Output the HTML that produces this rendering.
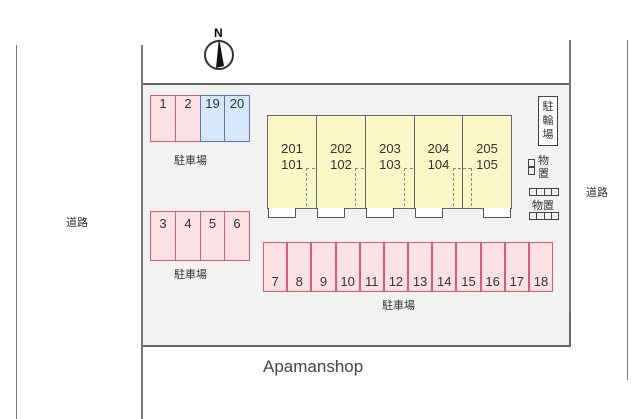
<!DOCTYPE html>
<html><head><meta charset="utf-8"><style>
body{margin:0;width:640px;height:419px;background:#fff;position:relative;overflow:hidden;font-family:"Liberation Sans","Noto Sans CJK JP",sans-serif;}
.a{position:absolute;box-sizing:border-box}
.p{position:absolute;box-sizing:border-box;border:1px solid #d06070;background:#fbe0e6;font-size:13px;color:#333;text-align:center}
.b{position:absolute;box-sizing:border-box;border:1px solid #6070c0;background:#d6e8fb;font-size:13px;color:#333;text-align:center}
.u{position:absolute;box-sizing:border-box;border:1px solid #666;background:#fbf8c8;font-size:13px;color:#333;text-align:center;line-height:16px;padding-top:25px}
.bal{position:absolute;box-sizing:border-box;border:1px solid #555;border-top:none;background:#fff;height:10px;width:28px;top:208px}
.t{position:absolute;font-size:11px;color:#333}
.d{position:absolute;border-left:1px dashed #888;width:0}
.h{position:absolute;border-top:1px dashed #888;height:0}
</style></head><body>
<div class="a" style="left:142px;top:83px;width:429px;height:264px;background:#f2f2f2;border-top:2px solid #666;border-bottom:2px solid #666;border-right:2px solid #666"></div>
<div class="a" style="left:141px;top:45px;width:2px;height:374px;background:#777"></div>
<div class="a" style="left:16px;top:45px;width:1px;height:374px;background:#777"></div>
<div class="a" style="left:569px;top:40px;width:2px;height:272px;background:#777"></div>
<div class="a" style="left:627px;top:40px;width:1px;height:340px;background:#777"></div>
<div class="t" style="left:66px;top:214px">道路</div>
<div class="t" style="left:586px;top:184px">道路</div>
<div class="a" style="left:263px;top:357px;font-size:17px;color:#444">Apamanshop</div>
<div class="a" style="left:204px;top:40px;width:30px;height:30px;border:2px solid #333;border-radius:50%"></div>
<svg class="a" style="left:204px;top:24px" width="30" height="48"><text x="10" y="13" font-size="12" font-family="Liberation Sans" font-weight="bold">N</text><polygon points="15,14 12,44 20,42" fill="#111"/></svg>
<div class="p" style="left:150px;top:95px;width:26px;height:47px">1</div>
<div class="p" style="left:175px;top:95px;width:26px;height:47px">2</div>
<div class="b" style="left:200px;top:95px;width:25px;height:47px">19</div>
<div class="b" style="left:224px;top:95px;width:26px;height:47px">20</div>
<div class="t" style="left:174px;top:152px">駐車場</div>
<div class="p" style="left:150px;top:211px;width:26px;height:50px;padding-top:4px">3</div>
<div class="p" style="left:175px;top:211px;width:26px;height:50px;padding-top:4px">4</div>
<div class="p" style="left:200px;top:211px;width:25px;height:50px;padding-top:4px">5</div>
<div class="p" style="left:224px;top:211px;width:26px;height:50px;padding-top:4px">6</div>
<div class="t" style="left:174px;top:266px">駐車場</div>
<div class="a" style="left:263px;top:242px;width:290px;height:50px;display:flex">
<div class="p" style="position:relative;flex:1;padding-top:31px">7</div><div class="p" style="position:relative;flex:1;padding-top:31px">8</div><div class="p" style="position:relative;flex:1;padding-top:31px">9</div><div class="p" style="position:relative;flex:1;padding-top:31px">10</div><div class="p" style="position:relative;flex:1;padding-top:31px">11</div><div class="p" style="position:relative;flex:1;padding-top:31px">12</div><div class="p" style="position:relative;flex:1;padding-top:31px">13</div><div class="p" style="position:relative;flex:1;padding-top:31px">14</div><div class="p" style="position:relative;flex:1;padding-top:31px">15</div><div class="p" style="position:relative;flex:1;padding-top:31px">16</div><div class="p" style="position:relative;flex:1;padding-top:31px">17</div><div class="p" style="position:relative;flex:1;padding-top:31px">18</div></div>
<div class="t" style="left:382px;top:297px">駐車場</div>
<div class="u" style="left:267px;top:115px;width:50px;height:94px">201<br>101</div>
<div class="u" style="left:316px;top:115px;width:50px;height:94px">202<br>102</div>
<div class="u" style="left:365px;top:115px;width:50px;height:94px">203<br>103</div>
<div class="u" style="left:414px;top:115px;width:49px;height:94px">204<br>104</div>
<div class="u" style="left:462px;top:115px;width:50px;height:94px">205<br>105</div>
<div class="h" style="left:306px;top:168px;width:9px"></div><div class="d" style="left:306px;top:168px;height:38px"></div>
<div class="h" style="left:355px;top:168px;width:9px"></div><div class="d" style="left:355px;top:168px;height:38px"></div>
<div class="h" style="left:404px;top:168px;width:9px"></div><div class="d" style="left:404px;top:168px;height:38px"></div>
<div class="h" style="left:453px;top:168px;width:18px"></div><div class="d" style="left:453px;top:168px;height:38px"></div><div class="d" style="left:471px;top:168px;height:38px"></div>
<div class="bal" style="left:268px"></div><div class="bal" style="left:317px"></div><div class="bal" style="left:366px"></div><div class="bal" style="left:415px"></div><div class="bal" style="left:483px"></div>
<div class="a" style="left:538px;top:96px;width:20px;height:50px;border:1px solid #444;background:#fff;font-size:11px;line-height:14px;text-align:center;padding-top:3px;color:#333">駐<br>輪<br>場</div>
<div class="a" style="left:528px;top:159px;width:7px;height:8px;border:1px solid #444"></div>
<div class="a" style="left:528px;top:167px;width:7px;height:8px;border:1px solid #444"></div>
<div class="t" style="left:538px;top:155px;line-height:13px">物<br>置</div>
<div class="a" style="left:529px;top:188px;width:30px;height:8px;display:flex"><div style="flex:1;border:1px solid #444"></div><div style="flex:1;border:1px solid #444;border-left:none"></div><div style="flex:1;border:1px solid #444;border-left:none"></div><div style="flex:1;border:1px solid #444;border-left:none"></div></div>
<div class="a" style="left:529px;top:212px;width:30px;height:8px;display:flex"><div style="flex:1;border:1px solid #444"></div><div style="flex:1;border:1px solid #444;border-left:none"></div><div style="flex:1;border:1px solid #444;border-left:none"></div><div style="flex:1;border:1px solid #444;border-left:none"></div></div>
<div class="t" style="left:532px;top:197px">物置</div>
</body></html>
